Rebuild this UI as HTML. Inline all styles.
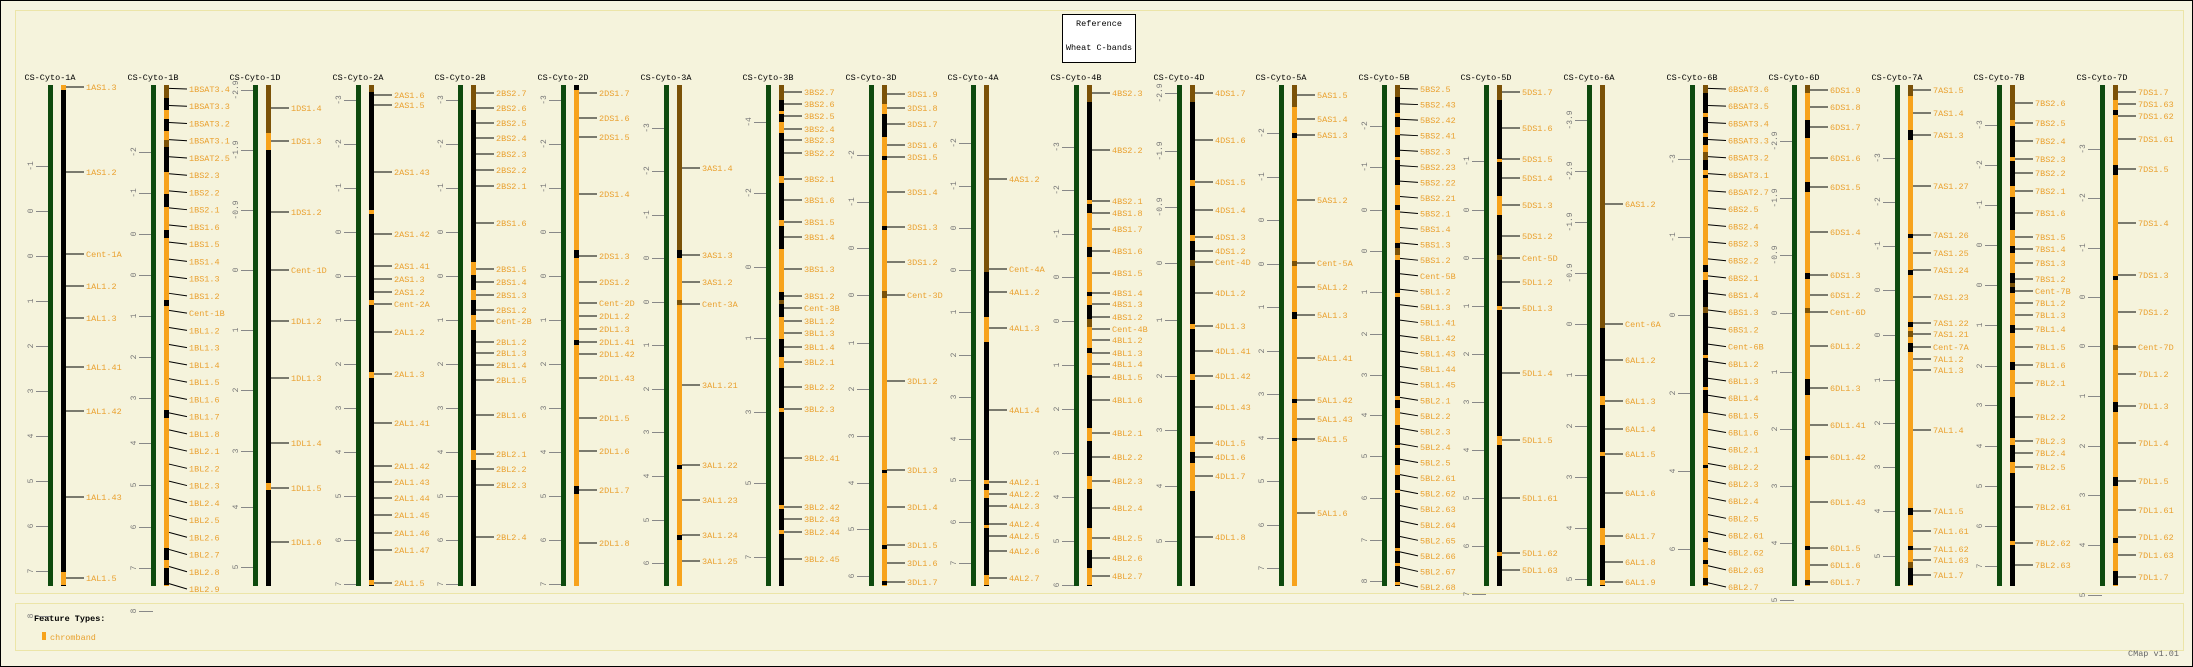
<!DOCTYPE html>
<html><head><meta charset="utf-8"><style>
html,body{margin:0;padding:0;background:#f6f4e1;}
svg{display:block;}
text{font-family:"Liberation Mono",monospace;}
</style></head><body>
<svg id="s" width="2193" height="667" xmlns="http://www.w3.org/2000/svg"></svg>
<script>
const O='#f7a31c',B='#7b5208',K='#000';
const C=[
["1A",K,"o85-90 o572-585",[["1AS1.3",87],["1AS1.2",172],["Cent-1A",254],["1AL1.2",286],["1AL1.3",318],["1AL1.41",367],["1AL1.42",411],["1AL1.43",497],["1AL1.5",578]],
 [["-1",166],["0",211],["0",256],["1",301],["2",346],["3",391],["4",436],["5",481],["6",526],["7",571],["8",616]]],
["1B",O,"b85-98 k98-110 k119-131 b140-147 k147-172 k194-207 k230-238 k300-306 k410-418 k548-560 k568-585",
 {n:"1BSAT3.4 1BSAT3.3 1BSAT3.2 1BSAT3.1 1BSAT2.5 1BS2.3 1BS2.2 1BS2.1 1BS1.6 1BS1.5 1BS1.4 1BS1.3 1BS1.2 Cent-1B 1BL1.2 1BL1.3 1BL1.4 1BL1.5 1BL1.6 1BL1.7 1BL1.8 1BL2.1 1BL2.2 1BL2.3 1BL2.4 1BL2.5 1BL2.6 1BL2.7 1BL2.8 1BL2.9",a:89,b:589},
 [["-2",152],["-1",193],["0",234],["0",275],["1",316],["2",357],["3",398],["4",443],["5",485],["6",527],["7",568],["8",611]]],
["1D",K,"b85-133 o133-150 o483-490",[["1DS1.4",108],["1DS1.3",141],["1DS1.2",212],["Cent-1D",270],["1DL1.2",321],["1DL1.3",378],["1DL1.4",443],["1DL1.5",488],["1DL1.6",542]],
 [["-2.9",90],["-1.9",150],["-0.9",210],["0",270],["1",330],["2",390],["3",451],["4",507],["5",567]]],
["2A",K,"b85-92 o210-214 o300-305 o372-378 o580-585",[["2AS1.6",95],["2AS1.5",105],["2AS1.43",172],["2AS1.42",234],["2AS1.41",266],["2AS1.3",279],["2AS1.2",292],["Cent-2A",304],["2AL1.2",332],["2AL1.3",374],["2AL1.41",423],["2AL1.42",466],["2AL1.43",482],["2AL1.44",498],["2AL1.45",515],["2AL1.46",533],["2AL1.47",550],["2AL1.5",583]],null],
["2B",K,"b85-110 o262-275 o290-300 o315-330 o450-460",[["2BS2.7",93],["2BS2.6",108],["2BS2.5",123],["2BS2.4",138],["2BS2.3",154],["2BS2.2",170],["2BS2.1",186],["2BS1.6",223],["2BS1.5",269],["2BS1.4",282],["2BS1.3",295],["2BS1.2",310],["Cent-2B",321],["2BL1.2",342],["2BL1.3",353],["2BL1.4",365],["2BL1.5",380],["2BL1.6",415],["2BL2.1",454],["2BL2.2",469],["2BL2.3",485],["2BL2.4",537]],null],
["2D",O,"k85-90 k250-258 k340-345 k486-494",[["2DS1.7",93],["2DS1.6",118],["2DS1.5",137],["2DS1.4",194],["2DS1.3",256],["2DS1.2",282],["Cent-2D",303],["2DL1.2",316],["2DL1.3",329],["2DL1.41",342],["2DL1.42",354],["2DL1.43",378],["2DL1.5",418],["2DL1.6",451],["2DL1.7",490],["2DL1.8",543]],null],
["3A",O,"b85-250 k250-258 b300-305 k465-469 k535-540",[["3AS1.4",168],["3AS1.3",255],["3AS1.2",282],["Cent-3A",304],["3AL1.21",385],["3AL1.22",465],["3AL1.23",500],["3AL1.24",535],["3AL1.25",561]],
 [["-3",128],["-2",171],["-1",215],["0",258],["0",302],["1",345],["2",389],["3",432],["4",476],["5",520],["6",563]]],
["3B",K,"b85-100 o111-114 o122-133 o176-183 o220-226 o249-292 b300-304 o317-339 o357-368 o408-412 o505-509 o530-534",[["3BS2.7",92],["3BS2.6",104],["3BS2.5",116],["3BS2.4",129],["3BS2.3",140],["3BS2.2",153],["3BS2.1",179],["3BS1.6",200],["3BS1.5",222],["3BS1.4",237],["3BS1.3",269],["3BS1.2",296],["Cent-3B",308],["3BL1.2",321],["3BL1.3",333],["3BL1.4",347],["3BL2.1",362],["3BL2.2",387],["3BL2.3",409],["3BL2.41",458],["3BL2.42",507],["3BL2.43",519],["3BL2.44",532],["3BL2.45",559]],
 [["-4",122],["-2",193],["0",267],["1",338],["3",412],["5",483],["7",557]]],
["3D",O,"b85-104 k114-137 k156-160 k226-230 b291-298 k470-473 k545-549 k581-585",[["3DS1.9",94],["3DS1.8",108],["3DS1.7",124],["3DS1.6",145],["3DS1.5",157],["3DS1.4",192],["3DS1.3",227],["3DS1.2",262],["Cent-3D",295],["3DL1.2",381],["3DL1.3",470],["3DL1.4",507],["3DL1.5",545],["3DL1.6",563],["3DL1.7",582]],
 [["-2",155],["-1",202],["0",248],["0",295],["1",343],["2",389],["3",436],["4",483],["5",529],["6",576]]],
["4A",K,"b85-272 o317-342 o480-484 o490-498 o525-528 o575-585",[["4AS1.2",179],["Cent-4A",269],["4AL1.2",292],["4AL1.3",328],["4AL1.4",410],["4AL2.1",482],["4AL2.2",494],["4AL2.3",506],["4AL2.4",524],["4AL2.5",536],["4AL2.6",551],["4AL2.7",578]],
 [["-2",143],["-1",186],["0",228],["0",270],["1",312],["2",355],["3",397],["4",439],["5",480],["6",522],["7",563]]],
["4B",K,"b85-102 o200-204 o213-247 o257-292 o296-305 b319-327 o327-348 o353-375 o428-441 o476-489 o528-550 o568-585",[["4BS2.3",93],["4BS2.2",150],["4BS2.1",201],["4BS1.8",213],["4BS1.7",229],["4BS1.6",251],["4BS1.5",273],["4BS1.4",293],["4BS1.3",304],["4BS1.2",317],["Cent-4B",329],["4BL1.2",340],["4BL1.3",353],["4BL1.4",364],["4BL1.5",377],["4BL1.6",400],["4BL2.1",433],["4BL2.2",457],["4BL2.3",481],["4BL2.4",508],["4BL2.5",538],["4BL2.6",558],["4BL2.7",576]],
 [["-3",147],["-2",190],["-1",234],["0",277],["0",321],["1",365],["2",409],["3",453],["4",497],["5",541],["6",585]]],
["4D",K,"b85-102 o180-186 o235-241 b260-266 o324-329 o374-380 o436-452 o463-491",[["4DS1.7",93],["4DS1.6",140],["4DS1.5",182],["4DS1.4",210],["4DS1.3",237],["4DS1.2",251],["Cent-4D",262],["4DL1.2",293],["4DL1.3",326],["4DL1.41",351],["4DL1.42",376],["4DL1.43",407],["4DL1.5",443],["4DL1.6",457],["4DL1.7",476],["4DL1.8",537]],
 [["-2.9",93],["-1.9",151],["-0.9",207],["0",263],["1",320],["2",376],["3",430],["4",486],["5",541]]],
["5A",O,"b85-107 k133-138 b261-266 k312-319 k399-403 k438-441",[["5AS1.5",95],["5AS1.4",119],["5AS1.3",135],["5AS1.2",200],["Cent-5A",263],["5AL1.2",287],["5AL1.3",315],["5AL1.41",358],["5AL1.42",400],["5AL1.43",419],["5AL1.5",439],["5AL1.6",513]],
 [["-2",133],["-1",177],["0",220],["0",264],["1",307],["2",351],["3",394],["4",438],["5",481],["6",525],["7",568]]],
["5B",K,"b85-97 o113-117 o127-135 o157-160 o185-205 o210-243 b248-255 o255-260 o293-297 o396-400 o408-425 o445-448 o465-475 o490-493 o548-551 o563-566 o582-585",
 {n:"5BS2.5 5BS2.43 5BS2.42 5BS2.41 5BS2.3 5BS2.23 5BS2.22 5BS2.21 5BS2.1 5BS1.4 5BS1.3 5BS1.2 Cent-5B 5BL1.2 5BL1.3 5BL1.41 5BL1.42 5BL1.43 5BL1.44 5BL1.45 5BL2.1 5BL2.2 5BL2.3 5BL2.4 5BL2.5 5BL2.61 5BL2.62 5BL2.63 5BL2.64 5BL2.65 5BL2.66 5BL2.67 5BL2.68",a:89,b:587},
 [["-2",126],["-1",167],["0",210],["0",251],["1",292],["2",334],["3",375],["4",415],["5",456],["6",498],["7",540],["8",581]]],
["5D",K,"b85-100 o159-162 o196-215 b255-260 o306-310 o436-445 o552-556",[["5DS1.7",92],["5DS1.6",128],["5DS1.5",159],["5DS1.4",178],["5DS1.3",205],["5DS1.2",236],["Cent-5D",258],["5DL1.2",282],["5DL1.3",308],["5DL1.4",373],["5DL1.5",440],["5DL1.61",498],["5DL1.62",553],["5DL1.63",570]],
 [["-1",161],["0",210],["0",258],["1",306],["2",354],["3",402],["4",450],["5",498],["6",546],["7",594]]],
["6A",K,"b85-328 o396-405 o452-456 o528-545 o580-585",[["6AS1.2",204],["Cent-6A",324],["6AL1.2",360],["6AL1.3",401],["6AL1.4",429],["6AL1.5",454],["6AL1.6",493],["6AL1.7",536],["6AL1.8",562],["6AL1.9",582]],
 [["-3.9",120],["-2.9",171],["-1.9",222],["-0.9",273],["0",324],["1",375],["2",426],["3",477],["4",528],["5",579]]],
["6B",O,"b85-93 k93-113 k117-133 k137-145 b152-160 k160-170 k175-178 k265-272 k280-307 b307-313 k313-355 k358-387 k390-413 k465-468 k538-542 k560-564 k578-585",
 {n:"6BSAT3.6 6BSAT3.5 6BSAT3.4 6BSAT3.3 6BSAT3.2 6BSAT3.1 6BSAT2.7 6BS2.5 6BS2.4 6BS2.3 6BS2.2 6BS2.1 6BS1.4 6BS1.3 6BS1.2 Cent-6B 6BL1.2 6BL1.3 6BL1.4 6BL1.5 6BL1.6 6BL2.1 6BL2.2 6BL2.3 6BL2.4 6BL2.5 6BL2.61 6BL2.62 6BL2.63 6BL2.7",a:89,b:587},
 [["-3",159],["-1",237],["0",315],["2",393],["4",471],["6",549]]],
["6D",O,"b85-93 k120-138 k182-192 k273-279 b308-313 k379-395 k456-460 k546-550 k580-585",[["6DS1.9",90],["6DS1.8",107],["6DS1.7",127],["6DS1.6",158],["6DS1.5",187],["6DS1.4",232],["6DS1.3",275],["6DS1.2",295],["Cent-6D",312],["6DL1.2",346],["6DL1.3",388],["6DL1.41",425],["6DL1.42",457],["6DL1.43",502],["6DL1.5",548],["6DL1.6",565],["6DL1.7",582]],
 [["-2.9",141],["-1.9",198],["-0.9",255],["0",313],["1",372],["2",429],["3",486],["4",543],["5",600]]],
["7A",O,"b85-96 k130-140 k234-238 k270-275 k322-327 b331-337 k343-352 k508-515 k546-550 b562-568 k568-585",[["7AS1.5",90],["7AS1.4",113],["7AS1.3",135],["7AS1.27",186],["7AS1.26",235],["7AS1.25",253],["7AS1.24",270],["7AS1.23",297],["7AS1.22",323],["7AS1.21",334],["Cent-7A",347],["7AL1.2",359],["7AL1.3",370],["7AL1.4",430],["7AL1.5",511],["7AL1.61",531],["7AL1.62",549],["7AL1.63",560],["7AL1.7",575]],
 [["-3",158],["-2",202],["-1",246],["0",290],["0",335],["1",380],["2",423],["3",467],["4",511],["5",556]]],
["7B",K,"b85-120 o120-126 o157-161 o186-197 o230-246 o253-273 b283-287 o293-325 o333-362 o370-397 o438-445 o462-473 o541-545",[["7BS2.6",103],["7BS2.5",123],["7BS2.4",141],["7BS2.3",159],["7BS2.2",173],["7BS2.1",191],["7BS1.6",213],["7BS1.5",237],["7BS1.4",249],["7BS1.3",263],["7BS1.2",279],["Cent-7B",291],["7BL1.2",303],["7BL1.3",315],["7BL1.4",329],["7BL1.5",347],["7BL1.6",365],["7BL2.1",383],["7BL2.2",417],["7BL2.3",441],["7BL2.4",453],["7BL2.5",467],["7BL2.61",507],["7BL2.62",543],["7BL2.63",565]],
 [["-3",125],["-2",165],["-1",205],["0",245],["0",285],["1",325],["2",366],["3",405],["4",446],["5",486],["6",526],["7",566]]],
["7D",O,"b85-100 k110-115 k165-175 k276-280 b345-350 k402-412 k477-486 k538-543 k571-585",[["7DS1.7",92],["7DS1.63",104],["7DS1.62",116],["7DS1.61",139],["7DS1.5",169],["7DS1.4",223],["7DS1.3",275],["7DS1.2",312],["Cent-7D",347],["7DL1.2",374],["7DL1.3",406],["7DL1.4",443],["7DL1.5",481],["7DL1.61",510],["7DL1.62",537],["7DL1.63",555],["7DL1.7",577]],
 [["-3",149],["-2",198],["-1",248],["0",297],["0",346],["1",396],["2",446],["3",495],["4",545],["5",595]]]
];
const defT=[["-3",100],["-2",144],["-1",188],["0",232],["0",276],["1",320],["2",364],["3",408],["4",452],["5",496],["6",540],["7",584]];
let h='';
h+='<rect x="0.5" y="0.5" width="2192" height="666" fill="#f6f4e1" stroke="#000"/>';
h+='<rect x="15.5" y="10.5" width="2168" height="583" fill="#f5f3dc" stroke="#ece5a8"/>';
h+='<rect x="15.5" y="603.5" width="2168" height="47" fill="#f5f3dc" stroke="#ece5a8"/>';
h+='<rect x="1062.5" y="14.5" width="73" height="48" fill="#fff" stroke="#000"/>';
h+='<text x="1099" y="26" font-size="8.5" text-anchor="middle" fill="#000">Reference</text>';
h+='<text x="1099" y="50" font-size="8.5" text-anchor="middle" fill="#000">Wheat C-bands</text>';
h+='<text x="34" y="621" font-size="8.5" fill="#000" font-weight="bold">Feature Types:</text>';
h+='<rect x="42" y="632" width="4" height="8" fill="'+O+'"/>';
h+='<text x="50" y="640" font-size="8.5" fill="#e8a12e">chromband</text>';
h+='<text x="2128" y="656" font-size="8.5" fill="#666">CMap v1.01</text>';
C.forEach((col,i)=>{
  const g=Math.round(48+i*102.6), c=g+13;
  h+=`<text x="${g+2}" y="80" font-size="8.5" text-anchor="middle" fill="#000">CS-Cyto-${col[0]}</text>`;
  const ticks=col[4]||defT;
  ticks.forEach(t=>{
    h+=`<line x1="${g-12}" y1="${t[1]+.5}" x2="${g+2}" y2="${t[1]+.5}" stroke="#888"/>`;
    h+=`<text transform="translate(${g-15},${t[1]}) rotate(-90)" font-size="8" text-anchor="middle" fill="#777">${t[0]}</text>`;
  });
  h+=`<rect x="${g}" y="85" width="5" height="501" fill="#0e4a0e"/>`;
  const dc=col[1]==='o'?O:col[1];
  h+=`<rect x="${c}" y="85" width="5" height="501" fill="${dc}"/>`;
  col[2].split(' ').forEach(s=>{
    const m=s.match(/([okb])(\d+)-(\d+)/); if(!m)return;
    const f={o:O,k:K,b:B}[m[1]];
    h+=`<rect x="${c}" y="${m[2]}" width="5" height="${m[3]-m[2]}" fill="${f}"/>`;
  });
  let labs=col[3];
  let fan=false;
  if(!Array.isArray(labs)){const n=labs.n.split(' ');fan=true;labs=n.map((x,j)=>[x,labs.a+(labs.b-labs.a)*j/(n.length-1)]);}
  labs.forEach((l,j)=>{
    const y=l[1];
    let by=y;
    if(fan){by=88+(580-88)*j/(labs.length-1); by=y+(by-y)*0.6;}
    h+=`<line x1="${c+5}" y1="${by}" x2="${c+23}" y2="${y}" stroke="#000"/>`;
    h+=`<text x="${c+25}" y="${y+3}" font-size="8.5" fill="#eaa130">${l[0]}</text>`;
  });
});
document.getElementById('s').innerHTML=h;
</script>
</body></html>
